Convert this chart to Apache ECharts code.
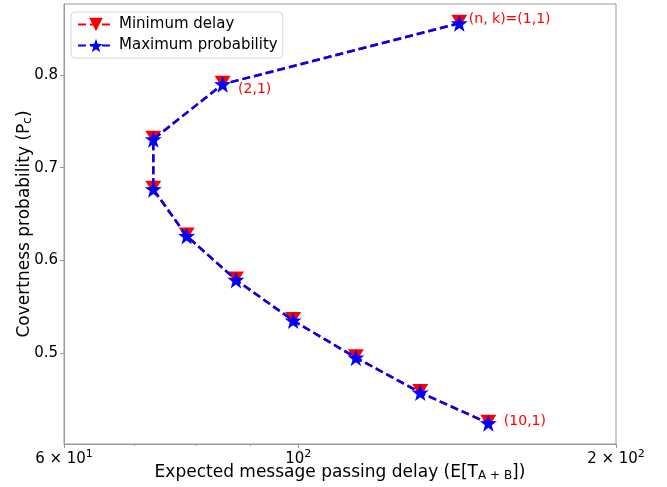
<!DOCTYPE html>
<html><head><meta charset="utf-8">
<script src="https://cdn.jsdelivr.net/npm/echarts@6/dist/echarts.min.js"></script>
<style>html,body{margin:0;padding:0;background:#fff}#c{width:667px;height:487px}</style>
</head><body><div id="c"></div>
<script>
// ---- data ----
var delayX = [142.1, 84.8, 72.9, 72.9, 78.4, 87.3, 98.9, 113.4, 130.5, 151.4];
var minDelayY = [0.8558, 0.7900, 0.7306, 0.6767, 0.6263, 0.5789, 0.5350, 0.4950, 0.4573, 0.4243];
var maxProbY = [0.8558, 0.7900, 0.7306, 0.6767, 0.6263, 0.5789, 0.5350, 0.4950, 0.4573, 0.4243];
var annotIndex = [0, 1, 9];
var annotText = ['(n, k)=(1,1)', '(2,1)', '(10,1)'];
var xTicks = [60, 100, 200];
var xMinorTicks = [70, 80, 90];
var yTicks = [0.5, 0.6, 0.7, 0.8];

// star path
function starPath() {
  var pts = [];
  for (var i = 0; i < 10; i++) {
    var r = (i % 2 === 0) ? 50 : 20;
    var a = -Math.PI / 2 + i * Math.PI / 5;
    pts.push((50 + r * Math.cos(a)).toFixed(2) + ' ' + (50 + r * Math.sin(a)).toFixed(2));
  }
  return 'path://M' + pts.join(' L') + ' Z';
}
var STAR = starPath();
var FONT = 'DejaVu Sans';

function pairs(xs, ys) { return xs.map(function (x, i) { return [x, ys[i]]; }); }

var blueData = pairs(delayX, maxProbY).map(function (p, i) {
  var k = annotIndex.indexOf(i);
  var item = { value: p };
  if (k >= 0) {
    var off = k === 0 ? [-4, -4] : (k === 1 ? [2, 5] : [2, -2]);
    item.label = { show: true, formatter: annotText[k], position: 'right', offset: off,
      color: '#ff0000', fontSize: 14, fontFamily: FONT };
  }
  return item;
});

var chart = echarts.init(document.getElementById('c'), null, { renderer: 'canvas' });
var sup = { fontSize: 11, verticalAlign: 'top', padding: [0, 0, 9, 0], fontFamily: FONT, color: '#000' };
chart.setOption({
  animation: false,
  backgroundColor: '#fff',
  grid: { left: 64, right: 51, top: 4, bottom: 43, show: true, borderColor: '#999', borderWidth: 1,
    outerBoundsMode: 'none', containLabel: false },
  legend: {
    left: 71, top: 12, orient: 'vertical', itemGap: 6, itemWidth: 36, itemHeight: 17,
    backgroundColor: '#fff', borderColor: '#d8d8d8', borderWidth: 1, borderRadius: 4,
    padding: [5, 5, 5, 6],
    textStyle: { fontSize: 15, fontFamily: FONT, color: '#000' },
    data: ['Minimum delay', 'Maximum probability']
  },
  xAxis: [{
    type: 'log', logBase: 10, min: 60, max: 200,
    axisLine: { show: true, lineStyle: { color: '#999' } },
    axisTick: { show: true, length: 4, lineStyle: { color: '#999' }, customValues: xTicks },
    splitLine: { show: false },
    axisLabel: {
      customValues: xTicks, fontSize: 15, fontFamily: FONT, color: '#000', margin: 5,
      formatter: function (v) {
        v = Math.round(v);
        if (v === 60) return '6 × 10{s|1}';
        if (v === 100) return '10{s|2}';
        if (v === 200) return '2 × 10{s|2}';
        return '';
      },
      rich: { s: sup }
    },
    name: 'Expected message passing delay (E[T{b|A + B}])',
    nameLocation: 'middle', nameGap: 20, nameMoveOverlap: false,
    nameTextStyle: { fontSize: 17, fontFamily: FONT, color: '#000',
      rich: { b: { fontSize: 12, verticalAlign: 'bottom', padding: [6, 0, 0, 0], fontFamily: FONT, color: '#000' } } }
  }, {
    type: 'log', logBase: 10, min: 60, max: 200, position: 'bottom',
    axisLine: { show: false },
    axisTick: { show: true, length: 2, lineStyle: { color: '#999' }, customValues: xMinorTicks },
    axisLabel: { show: false }, splitLine: { show: false }
  }],
  yAxis: {
    type: 'value', min: 0.4018, max: 0.8766,
    axisLine: { show: true, lineStyle: { color: '#999' } },
    axisTick: { show: true, length: 4, lineStyle: { color: '#999' }, customValues: yTicks },
    splitLine: { show: false },
    axisLabel: { customValues: yTicks, fontSize: 15, fontFamily: FONT, color: '#000', margin: 6,
      formatter: function (v) { return v.toFixed(1); } },
    name: 'Covertness probability (P{c|c})',
    nameLocation: 'middle', nameGap: 30, nameRotate: 90, nameMoveOverlap: false,
    nameTextStyle: { fontSize: 17, fontFamily: FONT, color: '#000',
      rich: { c: { fontSize: 12, verticalAlign: 'bottom', padding: [6, 0, 0, 0], fontFamily: FONT, color: '#000' } } }
  },
  series: [{
    name: 'Minimum delay', type: 'line', data: pairs(delayX, minDelayY),
    symbol: 'triangle', symbolRotate: 180, symbolSize: [16, 13], symbolOffset: [0, -2],
    itemStyle: { color: '#ff0000' },
    lineStyle: { color: '#ff0000', width: 2.5, type: [8, 4] },
    z: 2
  }, {
    name: 'Maximum probability', type: 'line', data: blueData,
    symbol: STAR, symbolSize: 17,
    itemStyle: { color: '#0000ff' },
    lineStyle: { color: '#0000ff', width: 2.5, type: [8, 4] },
    z: 3
  }]
});
</script></body></html>
